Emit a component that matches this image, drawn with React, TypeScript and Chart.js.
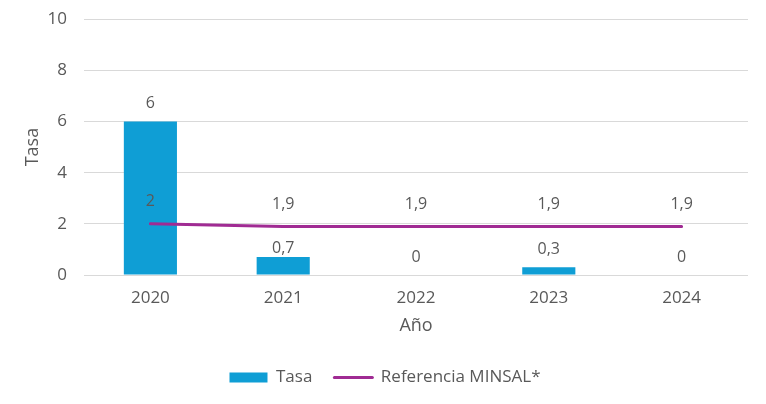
import React, { useEffect, useRef } from "react";
import { Chart, registerables } from "chart.js";

Chart.register(...registerables);

const categories = ["2020", "2021", "2022", "2023", "2024"];
const tasaValues = [6, 0.7, 0, 0.3, 0];
const referenciaValues = [2, 1.9, 1.9, 1.9, 1.9];
const yTicks = [0, 2, 4, 6, 8, 10];

const FONT = "'Open Sans', sans-serif";
const TEXT = "#595959";
const fmt = (v: number) => String(v).replace(".", ",");

const labelPlugin = {
  id: "valueLabels",
  afterDatasetsDraw(chart: any) {
    const ctx = chart.ctx;
    ctx.save();
    ctx.font = `16px ${FONT}`;
    ctx.fillStyle = TEXT;
    ctx.textAlign = "center";
    ctx.textBaseline = "middle";
    chart.data.datasets.forEach((ds: any, di: number) => {
      const meta = chart.getDatasetMeta(di);
      meta.data.forEach((el: any, i: number) => {
        const v = ds.data[i] as number;
        let y: number;
        if (ds.type === "bar") {
          y = el.y - 18;
          if (i === 1) y = el.y - 9;
        } else {
          y = el.y - 22;
        }
        ctx.fillText(fmt(v), el.x, y);
      });
    });
    ctx.restore();
  },
};

export default function App() {
  const ref = useRef<HTMLCanvasElement | null>(null);
  useEffect(() => {
    if (!ref.current) return;
    const chart = new Chart(ref.current, {
      type: "bar",
      data: {
        labels: categories,
        datasets: [
          {
            type: "bar",
            label: "Tasa",
            data: tasaValues,
            backgroundColor: "#0F9ED5",
            borderWidth: 0,
            barPercentage: 0.8,
            categoryPercentage: 0.5,
            order: 1,
          },
          {
            type: "line",
            label: "Referencia MINSAL*",
            data: referenciaValues,
            borderColor: "#A02B93",
            backgroundColor: "#A02B93",
            borderWidth: 3,
            borderCapStyle: "round",
            pointRadius: 0,
            tension: 0,
            order: 0,
          },
        ] as any,
      },
      options: {
        animation: false,
        responsive: true,
        maintainAspectRatio: false,
        layout: { padding: { top: 0, right: 18, left: 22, bottom: 8 } },
        plugins: {
          tooltip: { enabled: false },
          legend: {
            position: "bottom",
            labels: {
              usePointStyle: true,
              pointStyleWidth: 38,
              boxHeight: 10,
              padding: 22,
              color: TEXT,
              font: { family: FONT, size: 17 },
              sort: (a: any, b: any) => a.datasetIndex - b.datasetIndex,
              generateLabels: (chart: any) =>
                chart.data.datasets.map((ds: any, i: number) => ({
                  text: ds.label,
                  datasetIndex: i,
                  fillStyle: ds.type === "bar" ? ds.backgroundColor : ds.borderColor,
                  strokeStyle: ds.type === "bar" ? ds.backgroundColor : ds.borderColor,
                  lineWidth: ds.type === "bar" ? 0 : 3,
                  lineCap: "round",
                  pointStyle: ds.type === "bar" ? "rect" : "line",
                  fontColor: TEXT,
                  hidden: false,
                })),
            },
          },
        },
        scales: {
          x: {
            offset: true,
            afterFit: (scale: any) => {
              scale.height = 72;
            },
            grid: { display: false, drawTicks: false },
            border: { display: false },
            ticks: { color: TEXT, font: { family: FONT, size: 17 }, padding: 13 },
            title: {
              display: true,
              text: "Año",
              color: TEXT,
              font: { family: FONT, size: 18 },
              padding: { top: 0, bottom: 10 },
            },
          },
          y: {
            min: 0,
            max: 10,
            afterFit: (scale: any) => {
              scale.width = 62;
            },
            afterBuildTicks: (scale: any) => {
              scale.ticks = yTicks.map((v) => ({ value: v }));
            },
            grid: { color: "#D9D9D9", drawTicks: false, lineWidth: 1 },
            border: { display: false },
            ticks: { color: TEXT, font: { family: FONT, size: 17 }, padding: 17 },
            title: {
              display: true,
              text: "Tasa",
              color: TEXT,
              font: { family: FONT, size: 18 },
              padding: { top: 0, bottom: 0 },
            },
          },
        },
      },
      plugins: [labelPlugin],
    });
    return () => chart.destroy();
  }, []);
  return (
    <div style={{ position: "fixed", left: 0, top: -8, width: 766, height: 412, background: "#fff" }}>
      <canvas ref={ref} />
    </div>
  );
}
